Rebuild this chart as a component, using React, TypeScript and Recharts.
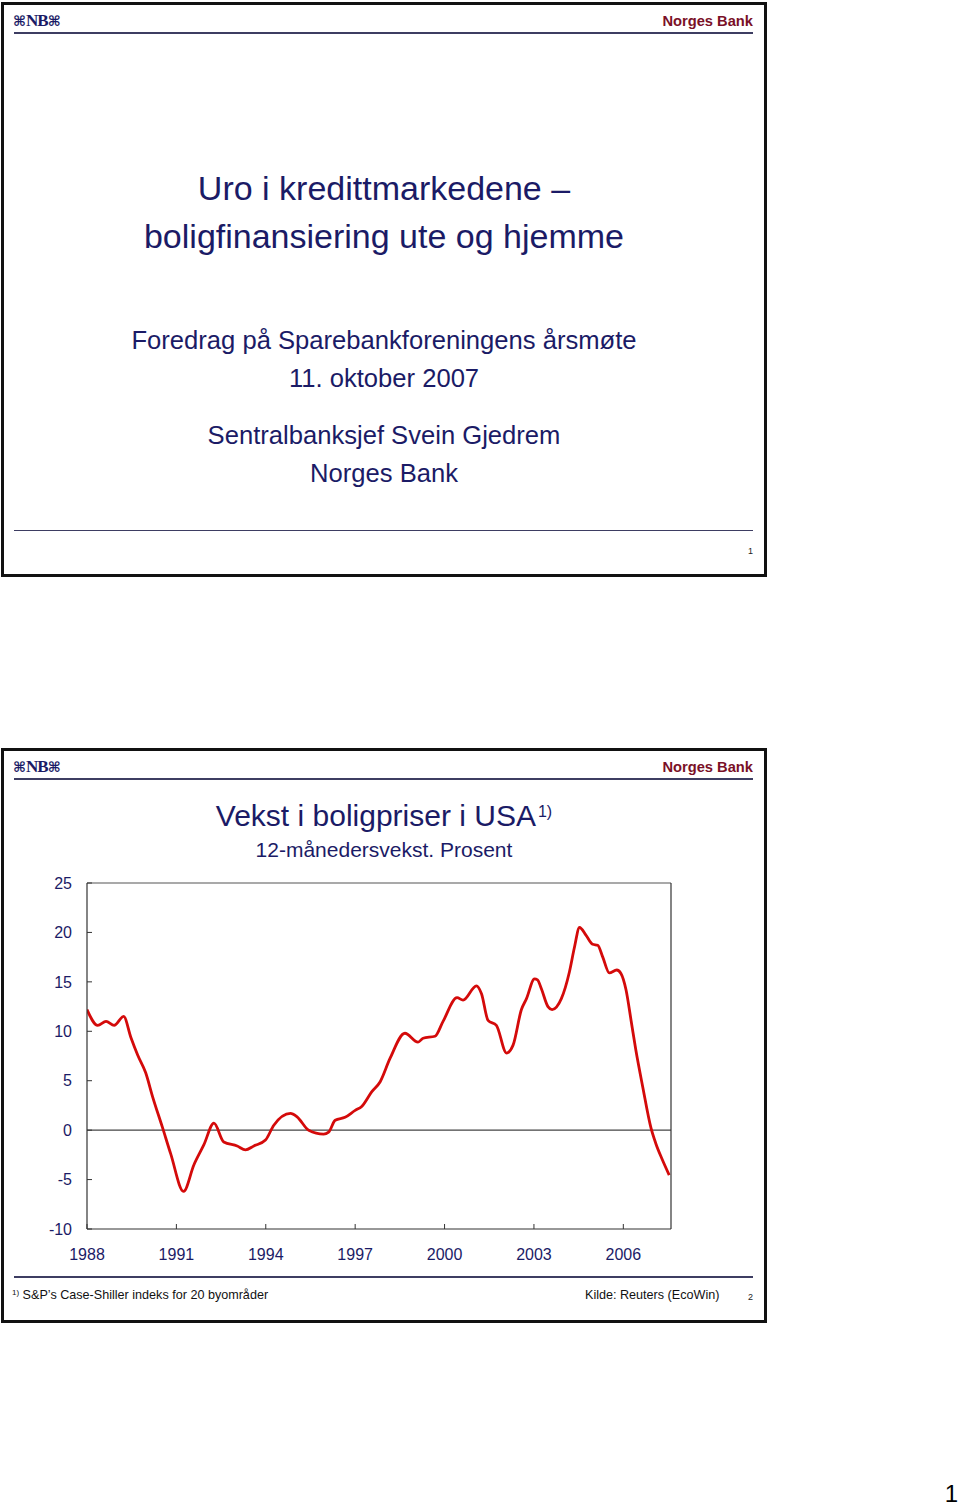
import React from 'react';
import { LineChart, Line, XAxis, YAxis, ReferenceLine } from 'recharts';

// Time (decimal years) and 12-month growth in US house prices (%)
const years = [
  1988.0, 1988.36, 1988.64, 1988.91, 1989.23, 1989.47, 1989.7, 1989.97, 1990.2, 1990.53,
  1990.81, 1991.24, 1991.59, 1991.92, 1992.26, 1992.59, 1993.04, 1993.32, 1993.6, 1993.99,
  1994.27, 1994.83, 1995.05, 1995.44, 1995.94, 1996.11, 1996.33, 1996.66, 1997.0, 1997.22,
  1997.56, 1997.84, 1998.17, 1998.67, 1999.11, 1999.28, 1999.68, 1999.95, 2000.42, 2000.62,
  2001.07, 2001.24, 2001.46, 2001.74, 2002.08, 2002.3, 2002.58, 2002.75, 2003.02, 2003.12,
  2003.25, 2003.47, 2003.61, 2003.92, 2004.19, 2004.36, 2004.53, 2004.75, 2004.97, 2005.14,
  2005.31, 2005.53, 2005.78, 2005.92, 2006.09, 2006.26, 2006.42, 2006.65, 2006.93, 2007.09,
  2007.31, 2007.54,
];
const growth = [
  12.2, 10.6, 11.0, 10.6, 11.5, 9.4, 7.6, 5.8, 3.4, 0.3,
  -2.4, -6.2, -3.5, -1.5, 0.7, -1.2, -1.6, -2.0, -1.6, -1.0,
  0.5, 1.7, 1.35, 0.0, -0.4, -0.2, 1.0, 1.3, 2.0, 2.4,
  3.9, 4.9, 7.25, 9.8, 8.9, 9.3, 9.5, 11.0, 13.4, 13.15,
  14.6, 13.8, 11.1, 10.6, 7.8, 8.6, 12.2, 13.3, 15.3, 15.2,
  14.3, 12.5, 12.2, 13.3, 16.0, 18.5, 20.5, 19.7, 18.8, 18.7,
  17.5, 15.9, 16.2, 15.85, 14.2, 11.1, 8.1, 4.4, 0.2, -1.35,
  -3.0, -4.55,
];
const yTicks = [-10, -5, 0, 5, 10, 15, 20, 25];
const xTicks = [1988, 1991, 1994, 1997, 2000, 2003, 2006];

const data = years.map((year, i) => ({ year, growth: growth[i] }));

const FONT = "'Liberation Sans', Arial, Helvetica, sans-serif";
const NAVY = '#1b1b66';
const RED_BRAND = '#7a1027';

const abs = (s: React.CSSProperties): React.CSSProperties => ({ position: 'absolute', ...s });

function Logo({ top }: { top: number }) {
  const knot: React.CSSProperties = { fontFamily: "'DejaVu Sans'", fontSize: 14, fontWeight: 'bold', lineHeight: '18px' };
  return (
    <div style={abs({ left: 13, top, height: 18, lineHeight: '18px', color: NAVY, whiteSpace: 'nowrap' })}>
      <span style={knot}>⌘</span>
      <span style={{ fontFamily: "'Liberation Serif', serif", fontWeight: 'bold', fontSize: 17, letterSpacing: -1 }}>NB</span>
      <span style={knot}>⌘</span>
    </div>
  );
}

function Header({ top }: { top: number }) {
  return (
    <>
      <Logo top={top + 10} />
      <div style={abs({ left: 500, width: 253, top: top + 11, textAlign: 'right', fontFamily: FONT, fontWeight: 'bold', fontSize: 14.7, lineHeight: '17px', color: RED_BRAND })}>
        Norges Bank
      </div>
      <div style={abs({ left: 14, width: 739, top: top + 30, height: 2, background: '#3d3d62' })} />
    </>
  );
}

function Centered({ top, size, children }: { top: number; size: number; children: React.ReactNode }) {
  return (
    <div style={abs({ left: 2, width: 764, top, textAlign: 'center', fontFamily: FONT, fontSize: size, lineHeight: `${size}px`, color: NAVY, whiteSpace: 'nowrap' })}>
      {children}
    </div>
  );
}

export default function App() {
  return (
    <div style={{ position: 'absolute', left: 0, top: 0, width: 960, height: 1507, background: '#fff', fontFamily: FONT }}>
      {/* Slide 1 */}
      <div style={abs({ left: 1, top: 2, width: 766, height: 575, border: '3px solid #111', boxSizing: 'border-box' })} />
      <Header top={2} />
      <Centered top={171} size={34}>Uro i kredittmarkedene –</Centered>
      <Centered top={219} size={34}>boligfinansiering ute og hjemme</Centered>
      <Centered top={328} size={25.6}>Foredrag på Sparebankforeningens årsmøte</Centered>
      <Centered top={366} size={25.6}>11. oktober 2007</Centered>
      <Centered top={423} size={25.6}>Sentralbanksjef Svein Gjedrem</Centered>
      <Centered top={461} size={25.6}>Norges Bank</Centered>
      <div style={abs({ left: 14, width: 739, top: 530, height: 1, background: '#3d3d62' })} />
      <div style={abs({ left: 740, width: 13, top: 546, textAlign: 'right', fontSize: 9, lineHeight: '10px', color: '#222', fontFamily: FONT })}>1</div>

      {/* Slide 2 */}
      <div style={abs({ left: 1, top: 748, width: 766, height: 575, border: '3px solid #111', boxSizing: 'border-box' })} />
      <Header top={748} />
      <Centered top={801} size={30}>
        Vekst i boligpriser i USA<span style={{ fontSize: 16, verticalAlign: 'top', position: 'relative', top: -4, marginLeft: 2 }}>1)</span>
      </Centered>
      <Centered top={839} size={21}>12-månedersvekst. Prosent</Centered>

      <div style={abs({ left: 0, top: 860 })}>
        <LineChart
          width={760}
          height={409}
          data={data}
          margin={{ top: 23, right: 0, bottom: 0, left: 0 }}
          style={{ fontFamily: FONT }}
        >
          <XAxis
            dataKey="year"
            type="number"
            domain={[1988, 2007.6]}
            ticks={xTicks}
            allowDataOverflow
            height={40}
            tickSize={-5}
            tickMargin={25}
            axisLine={{ stroke: '#333', strokeWidth: 1.2 }}
            tickLine={{ stroke: '#333' }}
            tick={{ fill: NAVY, fontSize: 16, fontFamily: FONT }}
          />
          <YAxis
            yAxisId="left"
            orientation="left"
            domain={[-10, 25]}
            ticks={yTicks}
            width={87}
            tickSize={-5}
            tickMargin={20}
            axisLine={{ stroke: '#333', strokeWidth: 1.2 }}
            tickLine={{ stroke: '#333' }}
            tick={{ fill: NAVY, fontSize: 16, fontFamily: FONT }}
          />
          <YAxis
            yAxisId="right"
            orientation="right"
            domain={[-10, 25]}
            ticks={yTicks}
            width={89}
            tickSize={-5}
            tickMargin={20}
            axisLine={{ stroke: '#333', strokeWidth: 1.2 }}
            tickLine={{ stroke: '#333' }}
            tick={{ fill: NAVY, fontSize: 16, fontFamily: FONT }}
          />
          <ReferenceLine yAxisId="left" y={25} stroke="#555" strokeWidth={1.2} />
          <ReferenceLine yAxisId="left" y={0} stroke="#444" strokeWidth={1.2} />
          <Line
            yAxisId="left"
            dataKey="growth"
            type="monotone"
            stroke="#d40a0a"
            strokeWidth={2.8}
            dot={false}
            isAnimationActive={false}
          />
        </LineChart>
      </div>

      <div style={abs({ left: 14, width: 739, top: 1276, height: 2, background: '#3d3d62' })} />
      <div style={abs({ left: 12, top: 1288, fontSize: 12.6, lineHeight: '14px', color: '#111', whiteSpace: 'nowrap', fontFamily: FONT })}>
        <span style={{ fontSize: 8, verticalAlign: 'top', position: 'relative', top: -2 }}>1)</span> S&amp;P’s Case-Shiller indeks for 20 byområder
      </div>
      <div style={abs({ left: 585, top: 1288, fontSize: 12.6, lineHeight: '14px', color: '#111', whiteSpace: 'nowrap', fontFamily: FONT })}>
        Kilde: Reuters (EcoWin)
      </div>
      <div style={abs({ left: 740, width: 13, top: 1292, textAlign: 'right', fontSize: 9, lineHeight: '10px', color: '#222', fontFamily: FONT })}>2</div>

      {/* Page number */}
      <div style={abs({ left: 930, width: 28, top: 1482, textAlign: 'right', fontSize: 24, lineHeight: '24px', color: '#000', fontFamily: FONT })}>1</div>
    </div>
  );
}
